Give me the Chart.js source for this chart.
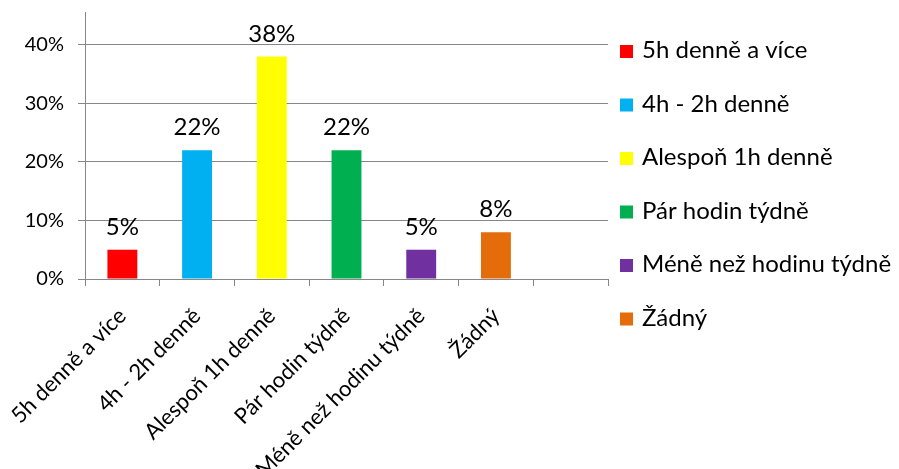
<!DOCTYPE html>
<html>
<head>
<meta charset="utf-8">
<script src="https://cdn.jsdelivr.net/npm/chart.js@4/dist/chart.umd.min.js"></script>
<style>
  html, body { margin: 0; padding: 0; background: #fff; }
  #wrap { width: 899px; height: 469px; }
</style>
</head>
<body>
<div id="wrap"><canvas id="graf"></canvas></div>
<script>
// data
var kategorie = ['5h denně a více', '4h - 2h denně', 'Alespoň 1h denně', 'Pár hodin týdně', 'Méně než hodinu týdně', 'Žádný', ''];
var podily = [0.05, 0.22, 0.38, 0.22, 0.05, 0.08, null];
var barvy = ['#FF0000', '#00B0F0', '#FFFF00', '#00B050', '#7030A0', '#E46C0A', '#ffffff'];
var osaY = [0, 0.1, 0.2, 0.3, 0.4];

var seda = '#878787';
var pismo = 'Lato, "Noto Sans", sans-serif';

function procenta(v) {
    return Math.round(v * 100) + '%';
}

// popisky nad sloupci
var popisky = {
    id: 'popisky',
    afterDatasetsDraw: function (chart) {
        var ctx = chart.ctx;
        var meta = chart.getDatasetMeta(0);
        ctx.save();
        ctx.font = '24px ' + pismo;
        ctx.fillStyle = '#000';
        ctx.textAlign = 'center';
        ctx.textBaseline = 'alphabetic';
        meta.data.forEach(function (bar, i) {
            if (podily[i] == null) return;
            ctx.fillText(procenta(podily[i]), bar.x, bar.y - 15);
        });
        ctx.restore();
    }
};

// legenda vpravo
var legenda = {
    id: 'legenda',
    afterDraw: function (chart) {
        var ctx = chart.ctx;
        var x = chart.chartArea.right + 12;
        var y = chart.chartArea.top + 46;
        ctx.save();
        ctx.font = '24px ' + pismo;
        ctx.textBaseline = 'alphabetic';
        ctx.textAlign = 'left';
        kategorie.forEach(function (k, i) {
            if (podily[i] == null) return;
            var yy = y + i * 53.5;
            ctx.fillStyle = barvy[i];
            ctx.fillRect(x, yy - 13, 13, 13);
            ctx.fillStyle = '#000';
            ctx.fillText(k, x + 22, yy);
        });
        ctx.restore();
    }
};

var ctxGraf = document.getElementById('graf').getContext('2d');
var graf = new Chart(ctxGraf, {
    type: 'bar',
    data: {
        labels: kategorie,
        datasets: [{
            data: podily,
            backgroundColor: barvy,
            barPercentage: 0.4,
            categoryPercentage: 1
        }]
    },
    options: {
        responsive: true,
        maintainAspectRatio: false,
        animation: false,
        layout: { padding: { top: 12, right: 291, left: 0, bottom: 0 } },
        plugins: {
            legend: { display: false },
            tooltip: { enabled: false }
        },
        scales: {
            x: {
                grid: { display: true, drawOnChartArea: false, drawTicks: true, tickLength: 7, color: seda, offset: true },
                border: { display: true, color: seda },
                ticks: {
                    color: '#000',
                    font: { family: pismo, size: 22 },
                    minRotation: 45,
                    maxRotation: 45,
                    autoSkip: false,
                    padding: 17
                },
                afterFit: function (scale) {
                    scale.height = 190;
                    scale.paddingLeft = 0;
                    scale.paddingRight = 0;
                }
            },
            y: {
                min: 0,
                max: 0.456,
                afterBuildTicks: function (scale) {
                    scale.ticks = osaY.map(function (v) { return { value: v }; });
                },
                grid: { color: seda, tickLength: 7, drawTicks: true },
                border: { display: true, color: seda },
                ticks: {
                    color: '#000',
                    font: { family: pismo, size: 20 },
                    padding: 14,
                    callback: function (v) { return procenta(v); }
                },
                afterFit: function (scale) {
                    scale.width = 85;
                    scale.paddingTop = 0;
                    scale.paddingBottom = 0;
                }
            }
        }
    },
    plugins: [popisky, legenda]
});
</script>
</body>
</html>
